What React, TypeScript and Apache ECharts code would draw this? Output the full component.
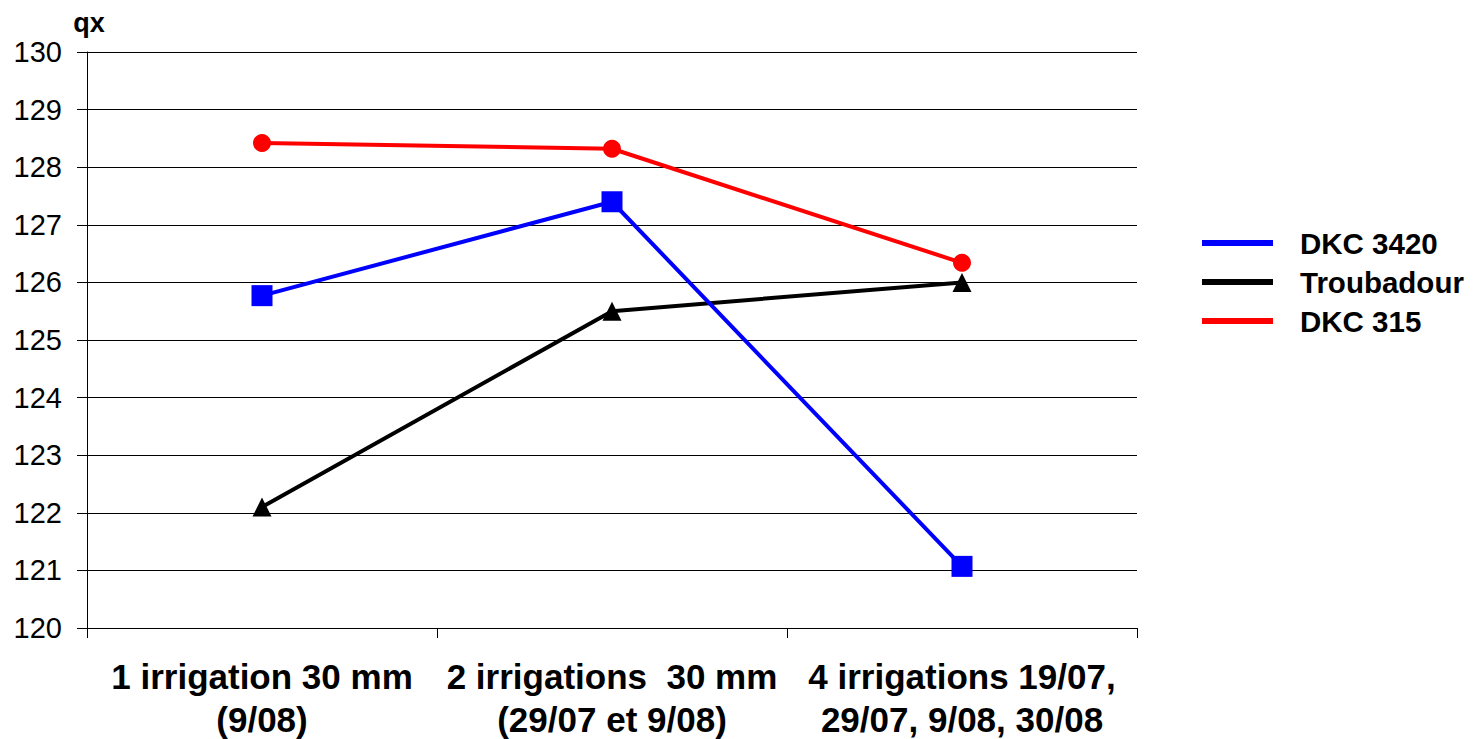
import React, { useEffect, useRef } from "react";
import * as echarts from "echarts";

const categories = [
  "1 irrigation 30 mm\n(9/08)",
  "2 irrigations  30 mm\n(29/07 et 9/08)",
  "4 irrigations 19/07,\n29/07, 9/08, 30/08",
];
const dkc3420 = [125.77, 127.4, 121.07];
const troubadour = [122.1, 125.5, 126.0];
const dkc315 = [128.42, 128.32, 126.34];
const seriesNames = ["DKC 3420", "Troubadour", "DKC 315"];

const FONT = "'Liberation Sans', Arial, Helvetica, sans-serif";

export default function App() {
  const ref = useRef<HTMLDivElement>(null);
  useEffect(() => {
    if (!ref.current) return;
    const chart = echarts.init(ref.current, null, { renderer: "svg" });
    chart.setOption({
      animation: false,
      backgroundColor: "#ffffff",
      textStyle: { fontFamily: FONT },
      grid: {
        left: 87,
        right: 342,
        top: 52,
        bottom: 111,
        containLabel: false,
        outerBoundsMode: "none",
      },
      legend: {
        orient: "vertical",
        left: 1202,
        top: 228,
        padding: 0,
        icon: "rect",
        itemWidth: 71,
        itemHeight: 6,
        itemGap: 9,
        data: seriesNames,
        textStyle: {
          fontFamily: FONT,
          fontSize: 29.5,
          fontWeight: "bold",
          color: "#000",
          lineHeight: 30,
          padding: [0, 0, 0, 22],
        },
      },
      xAxis: {
        type: "category",
        data: categories,
        boundaryGap: true,
        axisLine: { show: true, lineStyle: { color: "#000", width: 1 } },
        axisTick: { show: true, length: 10, alignWithLabel: false, lineStyle: { color: "#000" } },
        axisLabel: {
          interval: 0,
          margin: 27,
          fontFamily: FONT,
          fontSize: 35,
          fontWeight: "bold",
          color: "#000",
          lineHeight: 43,
          align: "center",
        },
        splitLine: { show: false },
      },
      yAxis: {
        type: "value",
        min: 120,
        max: 130,
        interval: 1,
        name: "qx",
        nameLocation: "end",
        nameGap: 29,
        nameTextStyle: {
          fontFamily: FONT,
          fontSize: 27,
          fontWeight: "bold",
          color: "#000",
          align: "center",
          verticalAlign: "middle",
          padding: [0, 0, 0, 4],
        },
        axisLine: { show: true, lineStyle: { color: "#000", width: 1 } },
        axisTick: { show: true, inside: false, length: 10, lineStyle: { color: "#000" } },
        axisLabel: {
          margin: 25,
          fontFamily: FONT,
          fontSize: 29,
          color: "#000",
        },
        splitLine: { show: true, lineStyle: { color: "#000", width: 1 } },
      },
      series: [
        {
          name: seriesNames[0],
          type: "line",
          data: dkc3420,
          color: "#0000ff",
          symbol: "rect",
          symbolSize: 21,
          lineStyle: { width: 4, color: "#0000ff" },
          itemStyle: { color: "#0000ff" },
          z: 3,
        },
        {
          name: seriesNames[1],
          type: "line",
          data: troubadour,
          color: "#000000",
          symbol: "triangle",
          symbolSize: [19, 19],
          lineStyle: { width: 4, color: "#000000" },
          itemStyle: { color: "#000000" },
          z: 2,
        },
        {
          name: seriesNames[2],
          type: "line",
          data: dkc315,
          color: "#ff0000",
          symbol: "circle",
          symbolSize: 18,
          lineStyle: { width: 4, color: "#ff0000" },
          itemStyle: { color: "#ff0000" },
          z: 4,
        },
      ],
    });
    return () => chart.dispose();
  }, []);
  return (
    <div
      ref={ref}
      style={{ position: "absolute", left: 0, top: 0, width: 1479, height: 739 }}
    />
  );
}
